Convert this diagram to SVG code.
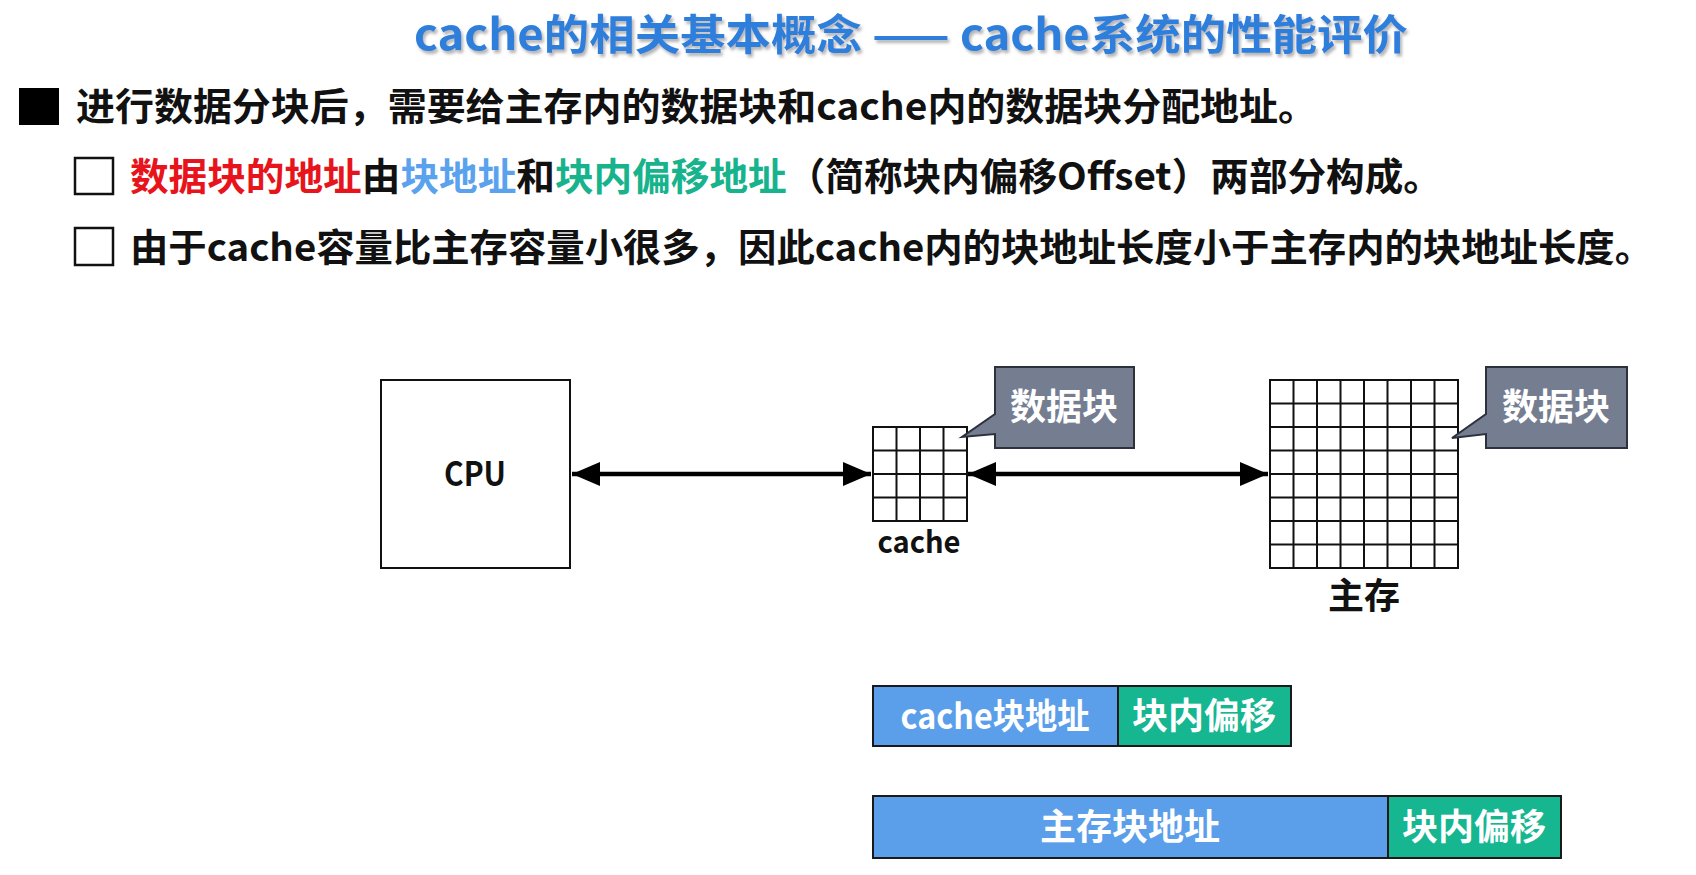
<svg xmlns="http://www.w3.org/2000/svg" width="1696" height="875" viewBox="0 0 1696 875">
<defs>
<style>
.cjk{font-family:"Noto Sans CJK SC","Liberation Sans",sans-serif;font-weight:bold}
.t{fill:#111}
.w{fill:#fff}
.box{fill:#fff;stroke:#111;stroke-width:2}
.grid{fill:#fff;stroke:#111;stroke-width:2}
.conn{stroke:#000;stroke-width:4.5;fill:none}
.callout{fill:#757d90;stroke:#2c313c;stroke-width:2}
.blue{fill:#5b9ee9;stroke:#1a1a1a;stroke-width:2}
.green{fill:#15b690;stroke:#1a1a1a;stroke-width:2}
</style>
<filter id="sh" x="-5%" y="-40%" width="110%" height="180%">
<feDropShadow dx="2" dy="3" stdDeviation="1.5" flood-color="#777" flood-opacity="0.55"/>
</filter>
<marker id="ah" viewBox="0 0 28 24" refX="28" refY="12" markerWidth="28" markerHeight="24" markerUnits="userSpaceOnUse" orient="auto-start-reverse">
<path d="M0,0 L28,12 L0,24 Z" fill="#000"/>
</marker>
</defs>
<rect width="1696" height="875" fill="#fff"/>

<g id="title">
<text class="cjk" x="414" y="50" font-size="42" fill="#2f7fdc" textLength="994" lengthAdjust="spacingAndGlyphs" filter="url(#sh)">cache的相关基本概念 —— cache系统的性能评价</text>
</g>

<g id="bullets">
<rect x="19" y="88" width="40" height="37" fill="#000"/>
<text class="cjk t" x="76" y="120" font-size="38" textLength="1241" lengthAdjust="spacingAndGlyphs">进行数据分块后，需要给主存内的数据块和cache内的数据块分配地址。</text>
<rect x="75" y="158" width="38" height="36" fill="#fff" stroke="#111" stroke-width="2.5"/>
<text class="cjk t" x="130" y="190" font-size="38" textLength="1312" lengthAdjust="spacingAndGlyphs"><tspan fill="#e8141c">数据块的地址</tspan>由<tspan fill="#5aa2ee">块地址</tspan>和<tspan fill="#16b38c">块内偏移地址</tspan>（简称块内偏移Offset）两部分构成。</text>
<rect x="75" y="228" width="38" height="37" fill="#fff" stroke="#111" stroke-width="2.5"/>
<text class="cjk t" x="130" y="261" font-size="38" textLength="1523" lengthAdjust="spacingAndGlyphs">由于cache容量比主存容量小很多，因此cache内的块地址长度小于主存内的块地址长度。</text>
</g>

<g id="connectors">
<line class="conn" x1="572" y1="474" x2="871" y2="474" marker-start="url(#ah)" marker-end="url(#ah)"/>
<line class="conn" x1="968" y1="474" x2="1268" y2="474" marker-start="url(#ah)" marker-end="url(#ah)"/>
</g>

<g id="cpu">
<rect class="box" x="381" y="380" width="189" height="188"/>
<text class="cjk t" x="475" y="486" font-size="33" text-anchor="middle" textLength="62" lengthAdjust="spacingAndGlyphs">CPU</text>
</g>

<g id="cache">
<rect class="grid" x="873" y="427" width="94" height="94"/>
<path class="grid" d="M896.5,427 V521 M920,427 V521 M943.5,427 V521 M873,450.5 H967 M873,474 H967 M873,497.5 H967"/>
<text class="cjk t" x="919" y="553" font-size="31" text-anchor="middle" textLength="83" lengthAdjust="spacingAndGlyphs">cache</text>
</g>

<g id="memory">
<rect class="grid" x="1270" y="380" width="188" height="188"/>
<path class="grid" d="M1293.5,380 V568 M1317,380 V568 M1340.5,380 V568 M1364,380 V568 M1387.5,380 V568 M1411,380 V568 M1434.5,380 V568 M1270,403.5 H1458 M1270,427 H1458 M1270,450.5 H1458 M1270,474 H1458 M1270,497.5 H1458 M1270,521 H1458 M1270,544.5 H1458"/>
<text class="cjk t" x="1364" y="609" font-size="36" text-anchor="middle">主存</text>
</g>

<g id="callout-cache">
<path class="callout" d="M995,367 H1134 V448 H995 V434 L962,437 L995,414 Z"/>
<text class="cjk w" x="1064" y="420" font-size="36" text-anchor="middle">数据块</text>
</g>

<g id="callout-memory">
<path class="callout" d="M1486,367 H1627 V448 H1486 V434 L1452,438 L1486,414 Z"/>
<text class="cjk w" x="1556" y="420" font-size="36" text-anchor="middle">数据块</text>
</g>

<g id="cache-address">
<rect class="blue" x="873" y="686" width="245" height="60"/>
<rect class="green" x="1118" y="686" width="173" height="60"/>
<text class="cjk w" x="995" y="729" font-size="35" text-anchor="middle" textLength="189" lengthAdjust="spacingAndGlyphs">cache块地址</text>
<text class="cjk w" x="1204" y="729" font-size="36" text-anchor="middle">块内偏移</text>
</g>

<g id="memory-address">
<rect class="blue" x="873" y="796" width="515" height="62"/>
<rect class="green" x="1388" y="796" width="173" height="62"/>
<text class="cjk w" x="1130" y="840" font-size="36" text-anchor="middle">主存块地址</text>
<text class="cjk w" x="1474" y="840" font-size="36" text-anchor="middle">块内偏移</text>
</g>
</svg>
